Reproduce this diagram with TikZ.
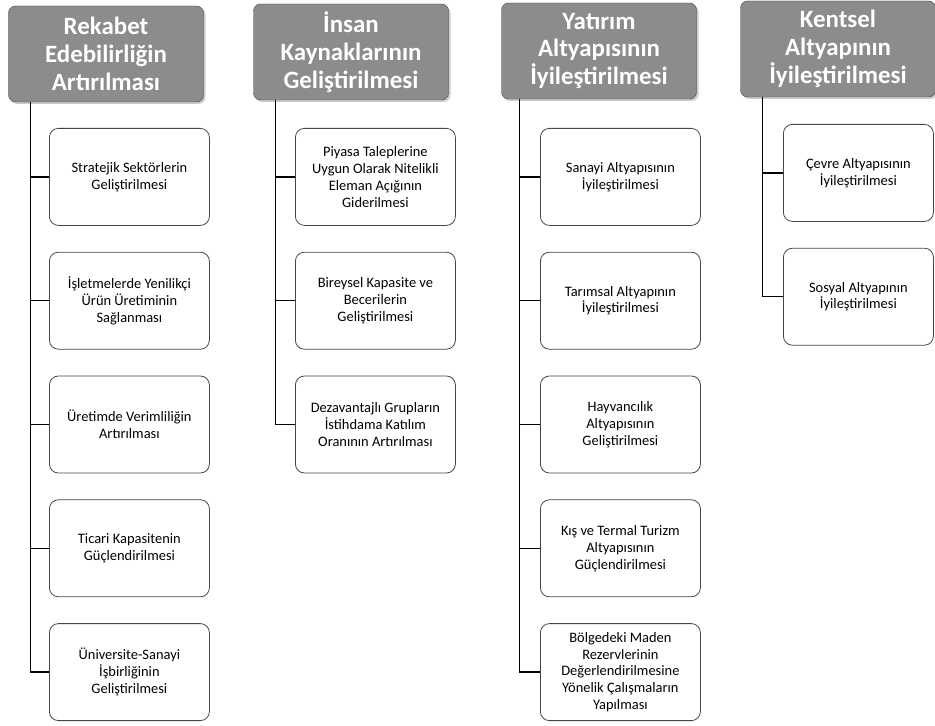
\documentclass[tikz,border=0pt]{standalone}
\usepackage{fontspec}
\setmainfont{Carlito}
\usetikzlibrary{positioning, shadows}
\definecolor{headgray}{RGB}{140,140,140}
\definecolor{framegray}{RGB}{70,70,70}

\begin{document}
\begin{tikzpicture}[
        x=1bp, y=-1bp,
        node distance=26bp,
        head/.style={rectangle, draw=framegray, fill=headgray, rounded corners=7bp, drop shadow={shadow xshift=2bp, shadow yshift=-2bp, opacity=.4},
            minimum width=195bp, minimum height=96bp, align=center, text=white,
            font=\fontsize{25}{28}\selectfont\bfseries},
        goal/.style={rectangle, draw=framegray, fill=white, rounded corners=9bp, line width=.8bp,
            minimum width=160bp, minimum height=97bp, inner sep=2bp, align=center,
            font=\fontsize{14.5}{17}\selectfont},
        link/.style={line width=1.5bp, black}
    ]
        \useasboundingbox (0,0) rectangle (935,726);

        % headers
        \node[head] (h1) at (106,54) {Rekabet\\Edebilirliğin\\Artırılması};
        \node[head] (h2) at (351,52) {İnsan\\Kaynaklarının\\Geliştirilmesi};
        \node[head] (h3) at (599,51) {Yatırım\\Altyapısının\\İyileştirilmesi};
        \node[head] (h4) at (838,49) {Kentsel\\Altyapının\\İyileştirilmesi};

        % column 1
        \node[goal, anchor=north west] (c11) at (49,128) {Stratejik Sektörlerin\\Geliştirilmesi};
        \node[goal, below=of c11] (c12) {İşletmelerde Yenilikçi\\Ürün Üretiminin\\Sağlanması};
        \node[goal, below=of c12] (c13) {Üretimde Verimliliğin\\Artırılması};
        \node[goal, below=of c13] (c14) {Ticari Kapasitenin\\Güçlendirilmesi};
        \node[goal, below=of c14] (c15) {Üniversite-Sanayi\\İşbirliğinin\\Geliştirilmesi};

        % column 2
        \node[goal, anchor=north west] (c21) at (295,128) {Piyasa Taleplerine\\Uygun Olarak Nitelikli\\Eleman Açığının\\Giderilmesi};
        \node[goal, below=of c21] (c22) {Bireysel Kapasite ve\\Becerilerin\\Geliştirilmesi};
        \node[goal, below=of c22] (c23) {Dezavantajlı Grupların\\İstihdama Katılım\\Oranının Artırılması};

        % column 3
        \node[goal, anchor=north west] (c31) at (540,128) {Sanayi Altyapısının\\İyileştirilmesi};
        \node[goal, below=of c31] (c32) {Tarımsal Altyapının\\İyileştirilmesi};
        \node[goal, below=of c32] (c33) {Hayvancılık\\Altyapısının\\Geliştirilmesi};
        \node[goal, below=of c33] (c34) {Kış ve Termal Turizm\\Altyapısının\\Güçlendirilmesi};
        \node[goal, below=of c34] (c35) {Bölgedeki Maden\\Rezervlerinin\\Değerlendirilmesine\\Yönelik Çalışmaların\\Yapılması};

        % column 4
        \node[goal, anchor=north west, minimum width=150bp] (c41) at (783,124) {Çevre Altyapısının\\İyileştirilmesi};
        \node[goal, below=of c41, minimum width=150bp] (c42) {Sosyal Altyapının\\İyileştirilmesi};

        % trunks and branches
        \foreach \i in {1,...,5}
            \draw[link] ([xshift=22bp]h1.south west) |- (c1\i.west);
        \foreach \i in {1,...,3}
            \draw[link] ([xshift=22bp]h2.south west) |- (c2\i.west);
        \foreach \i in {1,...,5}
            \draw[link] ([xshift=18bp]h3.south west) |- (c3\i.west);
        \foreach \i in {1,2}
            \draw[link] ([xshift=22bp]h4.south west) |- (c4\i.west);
    \end{tikzpicture}
\end{document}
